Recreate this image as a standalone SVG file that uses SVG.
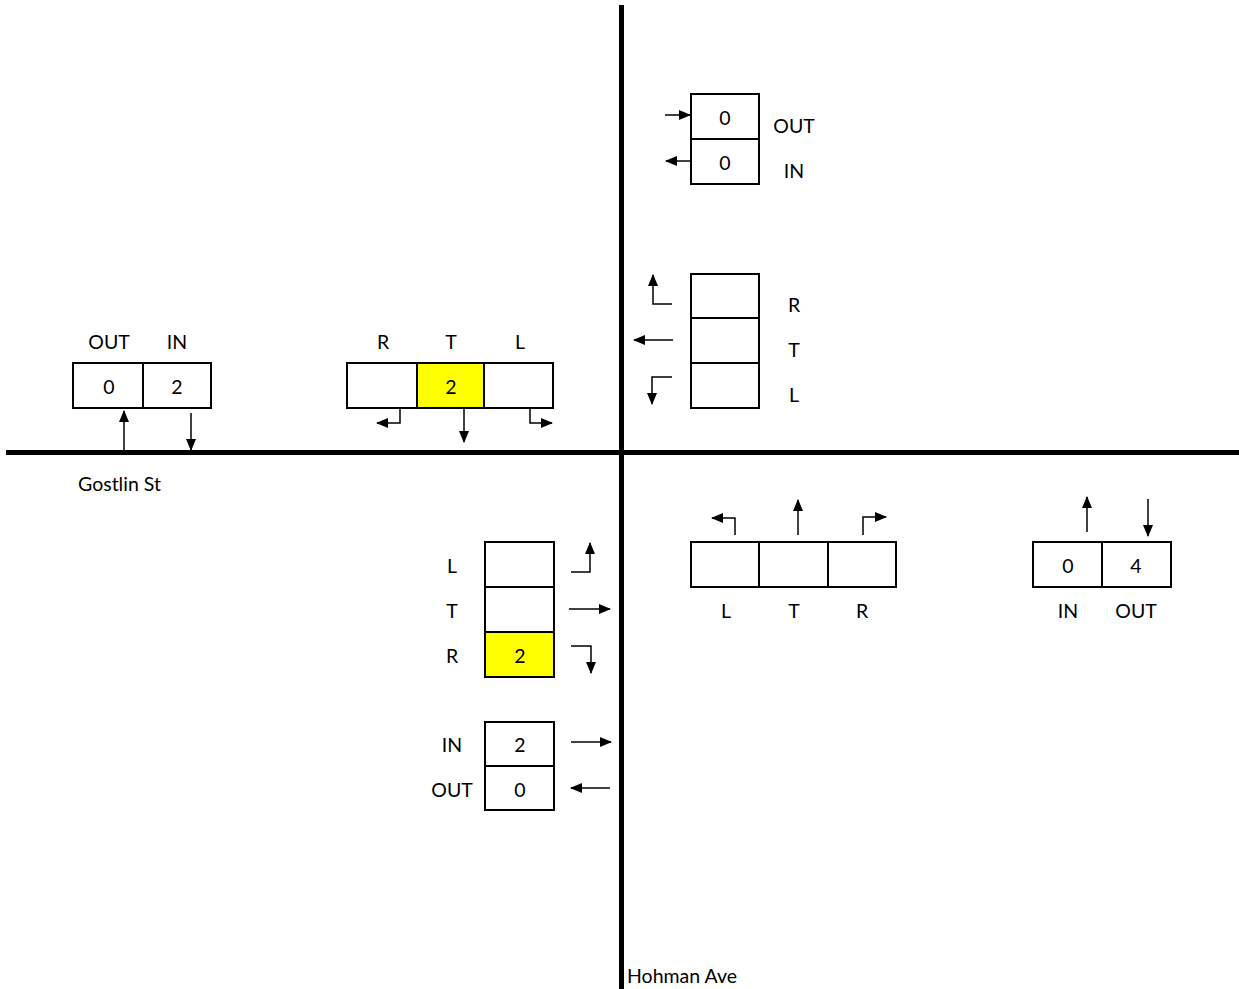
<svg xmlns="http://www.w3.org/2000/svg" width="1239" height="989" viewBox="0 0 1239 989">
<style>
.cell{fill:#fff;stroke:#000;stroke-width:2}
.hl{fill:#ffff00;stroke:#000;stroke-width:2}
.t{font-family:Lato,"Open Sans",sans-serif;font-size:19.5px;fill:#000;text-anchor:middle;dominant-baseline:central}
.tl{font-family:Lato,"Open Sans",sans-serif;font-size:19.5px;fill:#000}
.a{fill:none;stroke:#000;stroke-width:1.5;marker-end:url(#ah)}
.road{stroke:#000;stroke-width:5}
</style>
<defs>
<marker id="ah" markerUnits="userSpaceOnUse" markerWidth="12" markerHeight="12" viewBox="0 0 12 12" refX="11" refY="6" orient="auto">
<path d="M0,1 L12,6 L0,11 Z" fill="#000"/>
</marker>
</defs>
<rect width="1239" height="989" fill="#fff"/>
<g id="roads">
<line class="road" x1="621.5" y1="5" x2="621.5" y2="989"/>
<line class="road" x1="6" y1="452.5" x2="1239" y2="452.5"/>
<text class="tl" x="78" y="491">Gostlin St</text>
<text class="tl" x="627" y="983">Hohman Ave</text>
</g>
<g id="ne-inout">
<rect class="cell" x="691" y="94" width="68" height="45"/>
<rect class="cell" x="691" y="139" width="68" height="45"/>
<text class="t" x="725" y="117">0</text>
<text class="t" x="725" y="162">0</text>
<text class="t" x="794" y="125">OUT</text>
<text class="t" x="794" y="170">IN</text>
</g>
<g id="ne-rtl">
<rect class="cell" x="691" y="274" width="68" height="44"/>
<rect class="cell" x="691" y="318" width="68" height="45"/>
<rect class="cell" x="691" y="363" width="68" height="45"/>
<text class="t" x="794" y="304">R</text>
<text class="t" x="794" y="349">T</text>
<text class="t" x="794" y="394">L</text>
</g>
<g id="nw-outin">
<rect class="cell" x="73" y="363" width="70" height="45"/>
<rect class="cell" x="143" y="363" width="68" height="45"/>
<text class="t" x="109" y="386">0</text>
<text class="t" x="177" y="386">2</text>
<text class="t" x="109" y="341">OUT</text>
<text class="t" x="177" y="341">IN</text>
</g>
<g id="nw-rtl">
<rect class="cell" x="347" y="363" width="70" height="45"/>
<rect class="hl" x="417" y="363" width="67" height="45"/>
<rect class="cell" x="484" y="363" width="69" height="45"/>
<text class="t" x="451" y="386">2</text>
<text class="t" x="383" y="341">R</text>
<text class="t" x="451" y="341">T</text>
<text class="t" x="520" y="341">L</text>
</g>
<g id="sw-ltr">
<rect class="cell" x="485" y="542" width="69" height="45"/>
<rect class="cell" x="485" y="587" width="69" height="45"/>
<rect class="hl" x="485" y="632" width="69" height="45"/>
<text class="t" x="520" y="655">2</text>
<text class="t" x="452" y="565">L</text>
<text class="t" x="452" y="610">T</text>
<text class="t" x="452" y="655">R</text>
</g>
<g id="sw-inout">
<rect class="cell" x="485" y="722" width="69" height="44"/>
<rect class="cell" x="485" y="766" width="69" height="44"/>
<text class="t" x="520" y="744">2</text>
<text class="t" x="520" y="789">0</text>
<text class="t" x="452" y="744">IN</text>
<text class="t" x="452" y="789">OUT</text>
</g>
<g id="se-ltr">
<rect class="cell" x="691" y="542" width="68" height="45"/>
<rect class="cell" x="759" y="542" width="69" height="45"/>
<rect class="cell" x="828" y="542" width="68" height="45"/>
<text class="t" x="726" y="610">L</text>
<text class="t" x="794" y="610">T</text>
<text class="t" x="862" y="610">R</text>
</g>
<g id="se-inout">
<rect class="cell" x="1033" y="542" width="69" height="45"/>
<rect class="cell" x="1102" y="542" width="69" height="45"/>
<text class="t" x="1068" y="565">0</text>
<text class="t" x="1136" y="565">4</text>
<text class="t" x="1068" y="610">IN</text>
<text class="t" x="1136" y="610">OUT</text>
</g>
<g id="connectors">
<path class="a" d="M665,115 H690"/>
<path class="a" d="M690,161 H666"/>
<path class="a" d="M672,304 H653 V275"/>
<path class="a" d="M673,340 H634"/>
<path class="a" d="M672,377 H652 V404"/>
<path class="a" d="M124,450 V411"/>
<path class="a" d="M191,413 V450"/>
<path class="a" d="M400,408 V423 H377"/>
<path class="a" d="M464,408 V442"/>
<path class="a" d="M530,408 V423 H552"/>
<path class="a" d="M571,572 H590 V543"/>
<path class="a" d="M569,609 H610"/>
<path class="a" d="M571,646 H591 V673"/>
<path class="a" d="M571,742 H611"/>
<path class="a" d="M610,788 H571"/>
<path class="a" d="M735,535 V518 H712"/>
<path class="a" d="M798,535 V500"/>
<path class="a" d="M863,535 V517 H886"/>
<path class="a" d="M1087,532 V497"/>
<path class="a" d="M1148,499 V536"/>
</g>
</svg>
